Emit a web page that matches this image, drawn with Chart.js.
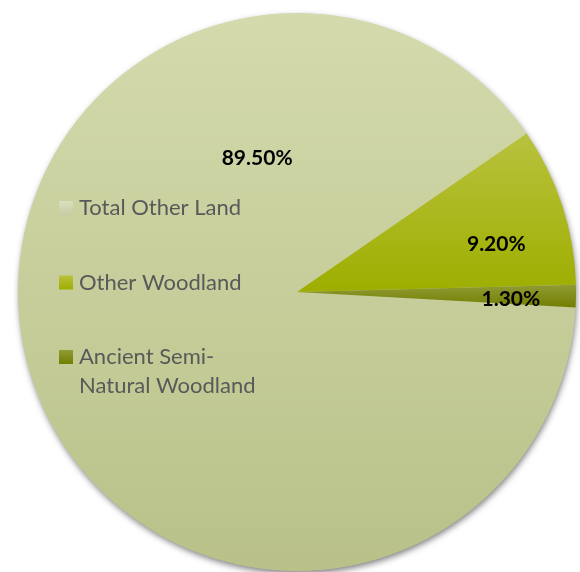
<!DOCTYPE html>
<html>
<head>
<meta charset="utf-8">
<script src="https://cdn.jsdelivr.net/npm/chart.js@4.4.1/dist/chart.umd.min.js"></script>
<style>
  html, body { margin: 0; padding: 0; background: #fff; }
  #wrap { width: 580px; height: 572px; }
</style>
</head>
<body>
<div id="wrap"><canvas id="chartPie"></canvas></div>
<script>
// dados do gráfico
const categories = ["Total Other Land", "Other Woodland", "Ancient Semi-Natural Woodland"];
const legendLines = [["Total Other Land"], ["Other Woodland"], ["Ancient Semi-", "Natural Woodland"]];
const shares = [89.5, 9.2, 1.3];
const valueLabels = ["89.50%", "9.20%", "1.30%"];

// cores (topo -> base do gradiente)
const topColors = ["#d4daac", "#b9c23e", "#909c34"];
const bottomColors = ["#b9c189", "#9eae00", "#717e00"];

const ROTATION = 93.2;
const FONT = "Lato, 'Open Sans', sans-serif";

// gradiente vertical sobre a altura da fatia
function sliceGradient(context) {
  const chart = context.chart;
  const area = chart.chartArea;
  const i = context.dataIndex;
  if (!area) return topColors[i];
  const cx = (area.left + area.right) / 2;
  const cy = (area.top + area.bottom) / 2;
  const r = Math.min(area.right - area.left, area.bottom - area.top) / 2;
  const total = shares.reduce((a, b) => a + b, 0);
  let a0 = (ROTATION - 90) * Math.PI / 180;
  for (let k = 0; k < i; k++) a0 += shares[k] / total * Math.PI * 2;
  const a1 = a0 + shares[i] / total * Math.PI * 2;
  let yMin = cy, yMax = cy;
  for (let s = 0; s <= 64; s++) {
    const y = cy + r * Math.sin(a0 + (a1 - a0) * s / 64);
    yMin = Math.min(yMin, y);
    yMax = Math.max(yMax, y);
  }
  const g = chart.ctx.createLinearGradient(0, yMin, 0, yMax);
  g.addColorStop(0, topColors[i]);
  g.addColorStop(1, bottomColors[i]);
  return g;
}

const pieExtras = {
  id: "pieExtras",
  beforeDatasetsDraw(chart) {
    const arc = chart.getDatasetMeta(0).data[0];
    if (!arc) return;
    const ctx = chart.ctx;
    ctx.save();
    ctx.shadowColor = "rgba(0,0,0,0.5)";
    ctx.shadowBlur = 6;
    ctx.shadowOffsetX = 1;
    ctx.shadowOffsetY = 3;
    ctx.beginPath();
    ctx.arc(arc.x, arc.y, arc.outerRadius - 0.5, 0, Math.PI * 2);
    ctx.fillStyle = "#c8cf9c";
    ctx.fill();
    ctx.restore();
  },
  afterDatasetsDraw(chart, args, opts) {
    const ctx = chart.ctx;
    const arcs = chart.getDatasetMeta(0).data;
    ctx.save();
    // rótulos de valor
    ctx.font = "bold 21px " + FONT;
    ctx.fillStyle = "#000";
    ctx.textAlign = "center";
    ctx.textBaseline = "middle";
    arcs.forEach((arc, i) => {
      const ang = opts.labelAngles[i] * Math.PI / 180;
      const d = arc.outerRadius * opts.labelRadius[i];
      ctx.fillText(valueLabels[i], arc.x + d * Math.cos(ang), arc.y + d * Math.sin(ang));
    });
    // legenda
    ctx.font = "22px " + FONT;
    ctx.textAlign = "left";
    legendLines.forEach((lines, i) => {
      const y = opts.legendY + i * opts.legendStep;
      const g = ctx.createLinearGradient(0, y - 7, 0, y + 7);
      g.addColorStop(0, i === 0 ? "#dadfc0" : topColors[i]);
      g.addColorStop(1, i === 0 ? "#c6cca2" : bottomColors[i]);
      ctx.fillStyle = g;
      ctx.fillRect(opts.legendX, y - 7, 14, 14);
      ctx.fillStyle = "#595959";
      lines.forEach((t, j) => ctx.fillText(t, opts.legendX + 20, y + j * opts.lineHeight));
    });
    ctx.restore();
  }
};

function initializePie() {
  const ctx = document.getElementById("chartPie").getContext("2d");
  new Chart(ctx, {
    type: "pie",
    data: {
      labels: categories,
      datasets: [{
        data: shares,
        backgroundColor: sliceGradient,
        borderWidth: 0,
        offset: 0,
        hoverOffset: 0
      }]
    },
    options: {
      responsive: true,
      maintainAspectRatio: false,
      animation: false,
      rotation: ROTATION,
      layout: { padding: { left: 18, right: 4, top: 13, bottom: 1 } },
      plugins: {
        legend: { display: false },
        tooltip: { enabled: false },
        pieExtras: {
          labelAngles: [-106.6, -13.6, 1.9],
          labelRadius: [0.50, 0.735, 0.767],
          legendX: 59,
          legendY: 208,
          legendStep: 74.5,
          lineHeight: 29
        }
      }
    },
    plugins: [pieExtras]
  });
}

window.onload = initializePie;
</script>
</body>
</html>
